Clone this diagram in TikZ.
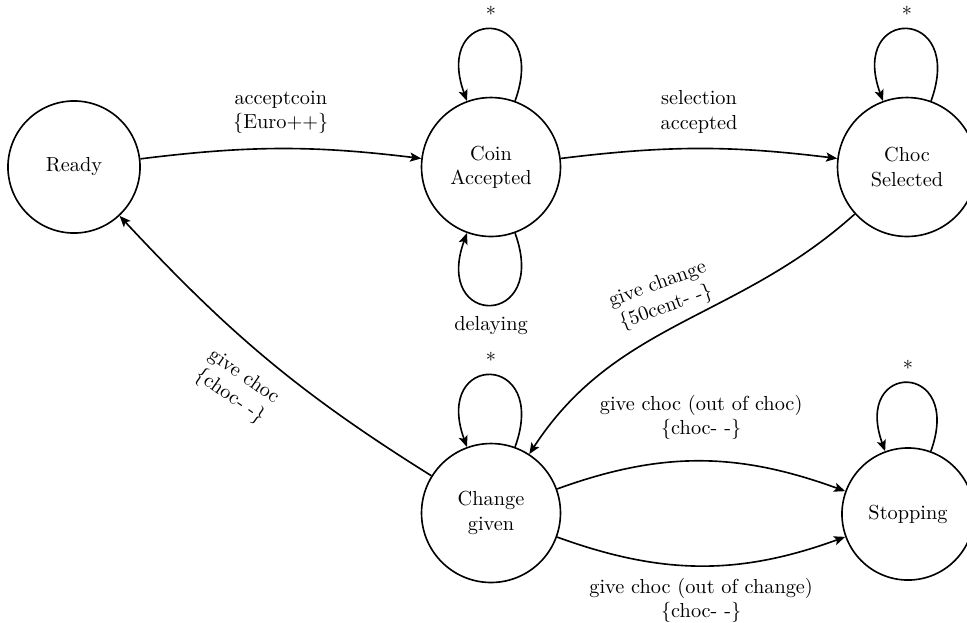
\documentclass[tikz,border=0pt]{standalone}
\usetikzlibrary{arrows.meta}
\begin{document}
\begin{tikzpicture}[x=0.4922pt,y=-0.4922pt,
  st/.style={circle,draw,line width=0.8pt,align=center,inner sep=0pt},
  stsmall/.style={st,minimum size=65pt},
  stbig/.style={st,minimum size=68.4pt},
  tr/.style={line width=0.8pt,-{Stealth[length=5.5pt,width=4.5pt,inset=1.2pt]}},
  lbl/.style={align=center},
  lp/.style={distance=50pt}]
\useasboundingbox (0,0) rectangle (967,622);
\node[stsmall] (ready) at (74,167) {Ready};
\node[stbig] (coin) at (491,167) {Coin\\Accepted};
\node[stbig] (choc) at (907,167) {Choc\\Selected};
\node[stbig] (change) at (491,513) {Change\\given};
\node[stsmall] (stop) at (908,514) {Stopping};

\draw[tr] (ready) to[bend left=7]
  node[lbl,pos=0.5,yshift=18pt] {acceptcoin\\\{Euro++\}} (coin);
\draw[tr] (coin) to[bend left=7]
  node[lbl,pos=0.5,yshift=18pt] {selection\\accepted} (choc);
\draw[tr] (choc) to[out=222,in=57]
  node[lbl,pos=0.5,xshift=-9pt,yshift=13.5pt,rotate=20] {give change\\\{50cent- -\}} (change);
\draw[tr] (change) to[out=148,in=313]
  node[lbl,pos=0.5,xshift=-14.3pt,yshift=-14.3pt,rotate=-35] {give choc\\\{choc- -\}} (ready);
\draw[tr] (change) to[out=20,in=160]
  node[lbl,pos=0.5,yshift=21.5pt] {give choc (out of choc)\\\{choc- -\}} (stop);
\draw[tr] (change) to[out=-20,in=200]
  node[lbl,pos=0.5,yshift=-17pt] {give choc (out of change)\\\{choc- -\}} (stop);

\draw[tr] (coin) to[out=70,in=110,lp] node[above] {*} (coin);
\draw[tr] (coin) to[out=-70,in=-110,lp] node[below,yshift=-2pt] {delaying} (coin);
\draw[tr] (choc) to[out=70,in=110,lp] node[above] {*} (choc);
\draw[tr] (change) to[out=70,in=110,lp] node[above] {*} (change);
\draw[tr] (stop) to[out=70,in=110,distance=47.5pt] node[above] {*} (stop);
\end{tikzpicture}
\end{document}
